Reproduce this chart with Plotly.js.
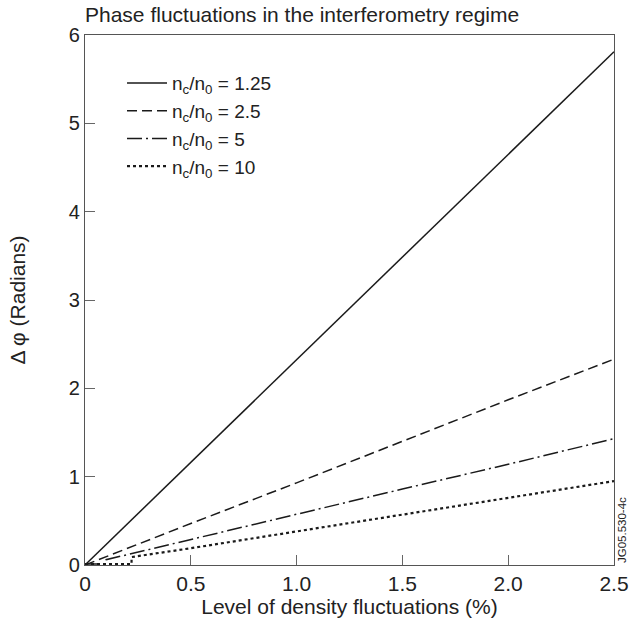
<!DOCTYPE html>
<html>
<head>
<meta charset="utf-8">
<script src="https://cdn.plot.ly/plotly-3.0.1.min.js"></script>
<style>html,body{margin:0;padding:0;background:#fff}#chart{width:640px;height:621px}</style>
</head>
<body>
<div id="chart"></div>
<script>
// Level of density fluctuations (%)
const xSolid = [0, 0.5, 1.0, 1.5, 2.0, 2.5];
const ySolid = [0, 1.16, 2.32, 3.49, 4.65, 5.81];

const xDashed = [0, 0.5, 1.0, 1.5, 2.0, 2.5];
const yDashed = [0, 0.47, 0.93, 1.40, 1.87, 2.33];

const xDashDot = [0, 0.1, 0.1, 0.5, 1.0, 1.5, 2.0, 2.5];
const yDashDot = [0.01, 0.01, 0.06, 0.29, 0.57, 0.86, 1.14, 1.43];

const xDotted = [0, 0.22, 0.22, 0.5, 1.0, 1.5, 2.0, 2.5];
const yDotted = [0.01, 0.01, 0.09, 0.19, 0.38, 0.57, 0.76, 0.95];

const seriesNames = [
  'n<sub>c</sub>/n<sub>0</sub> = 1.25',
  'n<sub>c</sub>/n<sub>0</sub> = 2.5',
  'n<sub>c</sub>/n<sub>0</sub> = 5',
  'n<sub>c</sub>/n<sub>0</sub> = 10'
];

const xTickVals = [0, 0.5, 1.0, 1.5, 2.0, 2.5];
const xTickText = ['0', '0.5', '1.0', '1.5', '2.0', '2.5'];
const yTickVals = [0, 1, 2, 3, 4, 5, 6];

const FONT = 'Liberation Sans, Arial, Helvetica, sans-serif';
const TXT = '#222';
const lineCol = '#1a1a1a';

const traces = [
  {x: xSolid, y: ySolid, name: seriesNames[0], mode: 'lines', line: {color: lineCol, width: 1.5, dash: 'solid'}},
  {x: xDashed, y: yDashed, name: seriesNames[1], mode: 'lines', line: {color: lineCol, width: 1.5, dash: '10px,5px'}},
  {x: xDashDot, y: yDashDot, name: seriesNames[2], mode: 'lines', line: {color: lineCol, width: 1.5, dash: '15px,4px,2px,4px'}},
  {x: xDotted, y: yDotted, name: seriesNames[3], mode: 'lines', line: {color: lineCol, width: 2.2, dash: 'dot'}}
];

const layout = {
  width: 640, height: 621,
  margin: {l: 85, r: 26, t: 35, b: 56},
  paper_bgcolor: '#fff', plot_bgcolor: '#fff',
  font: {family: FONT, color: TXT, size: 20},
  title: {text: 'Phase fluctuations in the interferometry regime', x: 85/640, xanchor: 'left', y: 1 - 15/621, yanchor: 'middle',
          font: {family: FONT, size: 21, color: TXT}},
  showlegend: true,
  legend: {x: 0.07, y: 0.945, xanchor: 'left', yanchor: 'top', bgcolor: 'rgba(0,0,0,0)',
           font: {family: FONT, size: 19, color: TXT}, tracegroupgap: 0, itemwidth: 40},
  xaxis: {
    range: [0, 2.5], tickvals: xTickVals, ticktext: xTickText,
    ticks: 'inside', ticklen: 10, tickcolor: '#666', tickwidth: 1,
    showline: true, linecolor: '#555', linewidth: 1.2, mirror: true,
    showgrid: false, zeroline: false,
    tickfont: {family: FONT, size: 21, color: TXT},
    title: {text: 'Level of density fluctuations (%)', font: {family: FONT, size: 21, color: TXT}, standoff: 2}
  },
  yaxis: {
    range: [0, 6], tickvals: yTickVals,
    ticks: 'inside', ticklen: 10, tickcolor: '#666', tickwidth: 1,
    showline: true, linecolor: '#555', linewidth: 1.2, mirror: true,
    showgrid: false, zeroline: false,
    tickfont: {family: FONT, size: 20, color: TXT},
    title: {text: 'Δ φ (Radians)', font: {family: FONT, size: 21, color: TXT}, standoff: 37}
  },
  annotations: [{
    text: 'JG05.530-4c', xref: 'paper', yref: 'paper', x: 1, y: 0, xanchor: 'left', yanchor: 'bottom',
    xshift: 0, textangle: -90, showarrow: false, font: {family: FONT, size: 11.5, color: TXT}
  }]
};

Plotly.newPlot('chart', traces, layout, {displayModeBar: false, staticPlot: true});
</script>
</body>
</html>
